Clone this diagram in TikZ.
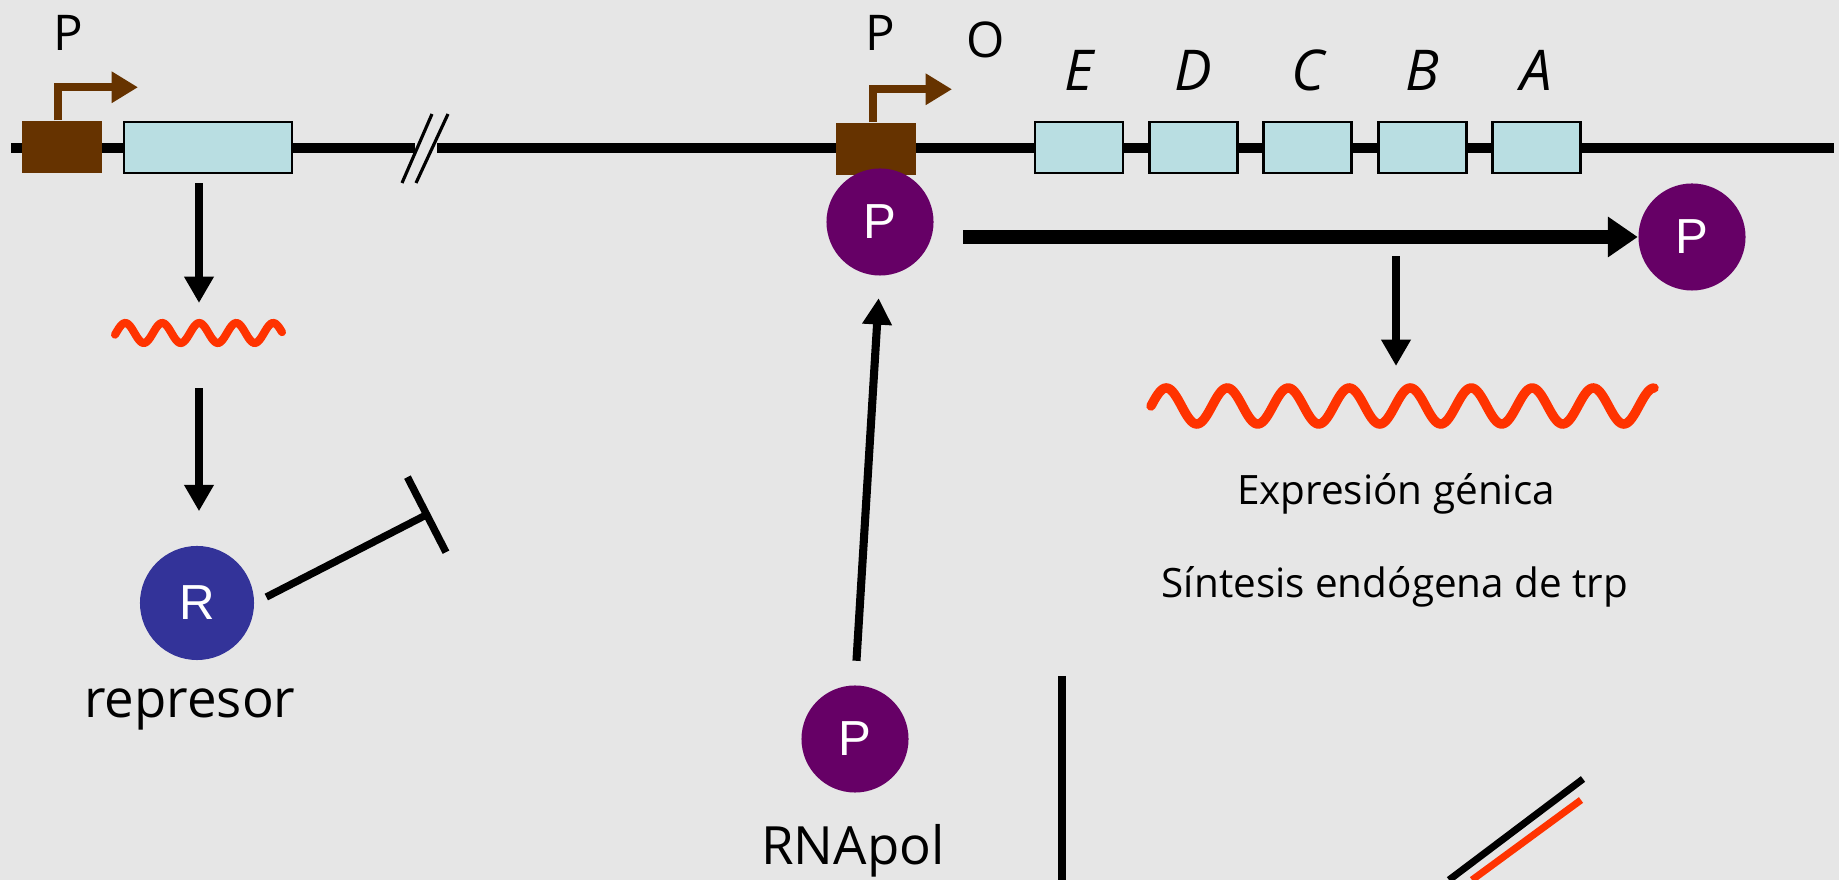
\documentclass[tikz,border=0pt]{standalone}
\usepackage{fontspec}
\setmainfont{Open Sans}
\newfontfamily\arialfont{Liberation Sans}
\usetikzlibrary{arrows.meta,positioning}
\definecolor{fondo}{HTML}{E6E6E6}
\definecolor{marron}{HTML}{663300}
\definecolor{celeste}{HTML}{B9DEE2}
\definecolor{morado}{HTML}{660066}
\definecolor{azulr}{HTML}{333399}
\definecolor{rojo}{HTML}{FF3300}

\begin{document}
\begin{tikzpicture}[x=0.01cm,y=-0.01cm,
    gen/.style={draw=black,fill=celeste,line width=0.8pt,minimum width=0.88cm,minimum height=0.51cm,inner sep=0pt},
    prom/.style={fill=marron,minimum width=0.8cm,minimum height=0.52cm,inner sep=0pt},
    promflecha/.style={marron,line width=2.4pt,-{Triangle[width=8.5pt,length=7.5pt]}},
    pol/.style={circle,fill=morado,minimum size=1.07cm,inner sep=0pt,text=white,font=\arialfont\fontsize{14}{14}\selectfont},
    flecha/.style={line width=2.3pt,-{Triangle[width=8pt,length=7.5pt]}},
    arnm/.style={rojo,line width=2.3pt,line cap=round},
    etiq/.style={font=\fontsize{16}{16}\selectfont\itshape,inner sep=0pt},
    texto/.style={font=\fontsize{15}{18}\selectfont,inner sep=0pt,anchor=base},
    texto2/.style={font=\fontsize{11.5}{14}\selectfont,inner sep=0pt,anchor=base}]
        \fill[fondo] (0,0) rectangle (1839,880);
        \useasboundingbox (0,0) rectangle (1839,880);

        % DNA
        \draw[line width=2.6pt] (11,148) -- (415,148);
        \draw[line width=2.6pt] (437,148) -- (1834,148);
        \draw[line width=0.9pt] (402,183) -- (432,114);
        \draw[line width=0.9pt] (416,183) -- (448,114);

        % Repressor gene
        \node[prom] (p1) at (62,147) {};
        \node[gen,minimum width=1.68cm] (genR) at (208,147.5) {};
        \draw[promflecha] (p1.north) ++(-4,0) |- ++(80,-33);
        \node[font=\fontsize{14}{14}\selectfont] (lp1) at (68,33) {P};

        % trp operon
        \node[prom] (p2) at (876,149) {};
        \draw[promflecha] (p2.north) ++(-3,0) |- ++(79,-33);
        \node[font=\fontsize{14}{14}\selectfont] (lp2) at (880,33) {P};
        \node[font=\fontsize{14}{14}\selectfont] (lo) at (986,40) {O};
        \node[gen] (genE) at (1079,147.5) {};
        \node[gen,right=0.235cm of genE] (genD) {};
        \node[gen,right=0.235cm of genD] (genC) {};
        \node[gen,right=0.235cm of genC] (genB) {};
        \node[gen,right=0.235cm of genB] (genA) {};
        \node[etiq,above=0.29cm of genE] (lE) {E};
        \node[etiq,above=0.29cm of genD] (lD) {D};
        \node[etiq,above=0.29cm of genC] (lC) {C};
        \node[etiq,above=0.29cm of genB] (lB) {B};
        \node[etiq,above=0.29cm of genA] (lA) {A};

        % Repressor mRNA and protein
        \coordinate (arnmR) at (199,333);
        \draw[arnm] plot[domain=115:282,samples=120,smooth] (\x,{333-10*sin((\x-116)/37*360)});
        \node[circle,fill=azulr,minimum size=1.14cm,inner sep=0pt,text=white,font=\arialfont\fontsize{14}{14}\selectfont] (rep) at (197,603) {R};
        \node[texto] (lrep) at (190,718) {represor};
        \draw[flecha,shorten <=0.09cm,shorten >=0.3cm] (genR.south -| arnmR) -- (arnmR);
        \draw[flecha,shorten <=0.55cm,shorten >=0.34cm] (arnmR) -- (rep.north -| arnmR);
        \coordinate (bloqueo) at (430,513);
        \draw[line width=2.1pt,-{Bar[width=24pt]},shorten <=0.13cm] (rep.east) -- (bloqueo);

        % RNA polymerase
        \node[pol] (polB) at (880,222) {P};
        \node[pol] (polL) at (855,739) {P};
        \node[pol] (polF) at (1692,237) {P};
        \node[texto] (lpol) at (853,865) {RNApol};
        \draw[flecha,shorten <=0.24cm,shorten >=0.22cm] (polL.north) -- (polB.south);
        \draw[line width=3.9pt,-{Triangle[width=11pt,length=8.5pt]},shorten <=0.29cm] (polB.east |- polF.west) -- (polF.west);

        % Operon mRNA
        \coordinate (arnmE) at (1396,406);
        \draw[arnm,line width=2.7pt] plot[domain=1151:1654,samples=300,smooth] (\x,{406-18*sin((\x-1151)/61*360)});
        \draw[flecha,shorten <=0.19cm,shorten >=0.4cm] (polF.west -| arnmE) -- (arnmE);
        \node[texto2] (lexp) at (1396,505) {Expresión génica};
        \node[texto2] (lsin) at (1395,598) {Síntesis endógena de trp};

        % lower edge
        \draw[line width=2.4pt] (1062,676) -- (1062,880);
        \draw[line width=2pt] (1449,880) -- (1583,779);
        \draw[rojo,line width=2pt] (1472,880) -- (1581,800);
\end{tikzpicture}
\end{document}
